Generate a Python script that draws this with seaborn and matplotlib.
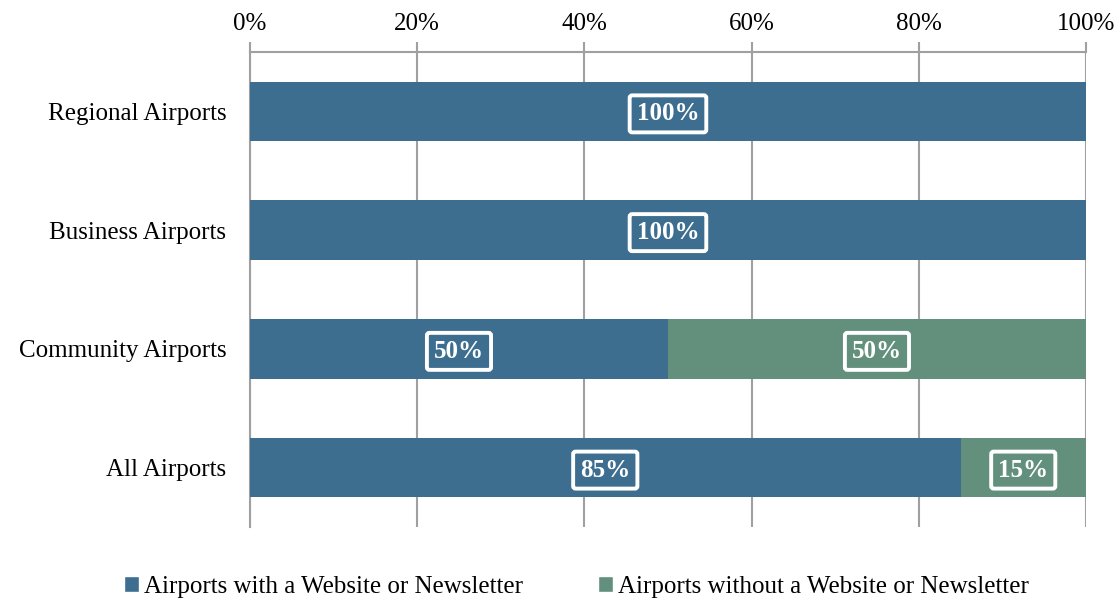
import numpy as np
import pandas as pd
import seaborn as sns
import matplotlib.pyplot as plt
from matplotlib.patches import Patch

# data
categories = ["Regional Airports", "Business Airports", "Community Airports", "All Airports"]
with_site = [100, 100, 50, 85]
without_site = [0, 0, 50, 15]
x_ticks = [0, 20, 40, 60, 80, 100]
series_names = ["Airports with a Website or Newsletter",
                "Airports without a Website or Newsletter"]

blue = "#3D6E8F"
green = "#62907D"
gray = "#A0A0A0"

sns.set_style("white")
plt.rcParams["font.family"] = ["Liberation Serif", "DejaVu Serif"]
plt.rcParams["text.color"] = "black"
plt.rcParams["xtick.labelcolor"] = "black"
plt.rcParams["ytick.labelcolor"] = "black"

df = pd.DataFrame({"cat": categories, "with": with_site, "without": without_site})
df["total"] = df["with"] + df["without"]

fig = plt.figure(figsize=(11.2, 6.06), dpi=100)
ax = fig.add_axes([0.2232, 0.1304, 0.7464, 0.7838])

# stacked: draw total first, then first series on top
sns.barplot(data=df, x="total", y="cat", color=green, width=0.5,
            saturation=1, linewidth=0, edgecolor="none", ax=ax, zorder=2)
sns.barplot(data=df, x="with", y="cat", color=blue, width=0.5,
            saturation=1, linewidth=0, edgecolor="none", ax=ax, zorder=3)

# value labels
for i, row in df.iterrows():
    segs = [(0, row["with"]), (row["with"], row["without"])]
    for left, w in segs:
        if w <= 0:
            continue
        ax.text(left + w / 2, i, f"{w:.0f}%", ha="center", va="center_baseline",
                color="white", fontsize=18, fontweight="bold", zorder=5,
                bbox=dict(boxstyle="round,pad=0.28,rounding_size=0.1",
                          facecolor="none", edgecolor="white", linewidth=2.8))

ax.set_xlim(0, 100)
ax.set_ylim(len(categories) - 0.5, -0.5)
ax.xaxis.tick_top()
ax.set_xticks(x_ticks)
ax.set_xticklabels([f"{t}%" for t in x_ticks])
ax.set_yticks(range(len(categories)))
ax.set_yticklabels(categories)
ax.set_yticks(np.arange(-0.5, len(categories), 1), minor=True)
ax.tick_params(axis="y", which="major", length=0, pad=17, labelsize=18)
ax.tick_params(axis="y", which="minor", length=7, color=gray, width=1.5)
ax.tick_params(axis="x", which="major", length=7, color=gray, width=1.5,
               labelsize=18, pad=5)
ax.set_xlabel("")
ax.set_ylabel("")

ax.grid(axis="x", color=gray, linewidth=1.5, zorder=0)
ax.set_axisbelow(True)
for s in ["right", "bottom"]:
    ax.spines[s].set_visible(False)
for s in ["top", "left"]:
    ax.spines[s].set_color(gray)
    ax.spines[s].set_linewidth(1.5)

handles = [Patch(facecolor=blue), Patch(facecolor=green)]
fig.legend(handles, series_names, loc="center", bbox_to_anchor=(0.515, 0.031),
           ncol=2, frameon=False, fontsize=18, handlelength=0.6,
           handleheight=0.6, handletextpad=0.2, columnspacing=3.0)

fig.savefig("out.png", dpi=100)
